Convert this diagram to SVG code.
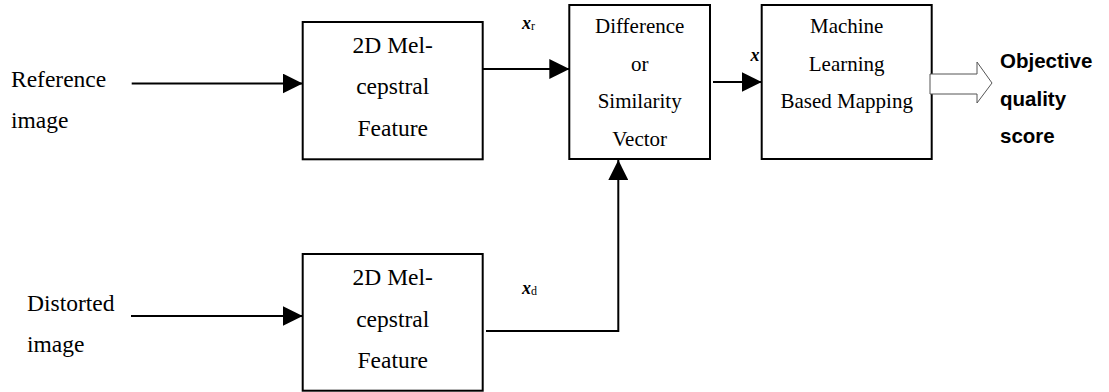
<svg xmlns="http://www.w3.org/2000/svg" width="1109" height="392" viewBox="0 0 1109 392">
<defs>
<style>
.box{fill:#fff;stroke:#000;stroke-width:2}
.t{font-family:"Liberation Serif","Times New Roman",serif;fill:#000}
.t1{font-size:23.5px}
.t2{font-size:21px}
.c{text-anchor:middle}
.conn{fill:none;stroke:#000;stroke-width:2}
.lab{font-family:"Liberation Serif","Times New Roman",serif;font-size:18px;fill:#000}
.out{font-family:"Liberation Sans",Arial,sans-serif;font-weight:bold;font-size:20.5px;fill:#000}
</style>
<marker id="ah" viewBox="0 0 20 20" refX="20" refY="10" markerWidth="20" markerHeight="20" markerUnits="userSpaceOnUse" orient="auto">
<path d="M0,0 L20,10 L0,20 z" fill="#000"/>
</marker>
</defs>
<rect width="1109" height="392" fill="#fff"/>

<g id="ref-input">
<text class="t t1" x="11" y="87">Reference</text>
<text class="t t1" x="11" y="128">image</text>
</g>
<g id="dist-input">
<text class="t t1" x="27" y="311">Distorted</text>
<text class="t t1" x="27" y="352">image</text>
</g>

<g id="feat-ref">
<rect class="box" x="302.7" y="22" width="180" height="137.3"/>
<text class="t t1 c" x="392.7" y="53.3">2D Mel-</text>
<text class="t t1 c" x="392.7" y="94.3">cepstral</text>
<text class="t t1 c" x="392.7" y="136">Feature</text>
</g>

<g id="feat-dist">
<rect class="box" x="302.7" y="254" width="180" height="136.7"/>
<text class="t t1 c" x="392.7" y="285">2D Mel-</text>
<text class="t t1 c" x="392.7" y="326.7">cepstral</text>
<text class="t t1 c" x="392.7" y="368.3">Feature</text>
</g>

<g id="diff">
<rect class="box" x="569.3" y="5" width="140.7" height="154"/>
<text class="t t2 c" x="639.7" y="33.3">Difference</text>
<text class="t t2 c" x="639.7" y="71">or</text>
<text class="t t2 c" x="639.7" y="108.3">Similarity</text>
<text class="t t2 c" x="639.7" y="145.7">Vector</text>
</g>

<g id="ml">
<rect class="box" x="761.7" y="5" width="170" height="154"/>
<text class="t t2 c" x="846.7" y="33.3">Machine</text>
<text class="t t2 c" x="846.7" y="71">Learning</text>
<text class="t t2 c" x="846.7" y="108.3">Based Mapping</text>
</g>

<g id="output">
<text class="out" x="1000" y="68.3">Objective</text>
<text class="out" x="1000" y="106">quality</text>
<text class="out" x="1000" y="143.3">score</text>
</g>

<g id="connectors">
<line class="conn" x1="131.7" y1="83.5" x2="302.7" y2="83.5" marker-end="url(#ah)"/>
<line class="conn" x1="131" y1="316" x2="302.7" y2="316" marker-end="url(#ah)"/>
<line class="conn" x1="482.7" y1="69" x2="569.3" y2="69" marker-end="url(#ah)"/>
<line class="conn" x1="713" y1="82" x2="761.7" y2="82" marker-end="url(#ah)"/>
<path class="conn" d="M486,331 H618.3 V160" marker-end="url(#ah)"/>
<polygon points="930,74 977,74 977,62 992,83 977,103 977,94 930,94" fill="#fff" stroke="#555" stroke-width="1"/>
<text class="lab" x="522" y="29"><tspan font-weight="bold" font-style="italic">x</tspan><tspan font-size="12" dy="1">r</tspan></text>
<text class="lab" x="522" y="294.3"><tspan font-weight="bold" font-style="italic">x</tspan><tspan font-size="12" dy="1">d</tspan></text>
<text class="lab" x="750.5" y="60.7" font-weight="bold" font-style="italic">x</text>
</g>
</svg>
